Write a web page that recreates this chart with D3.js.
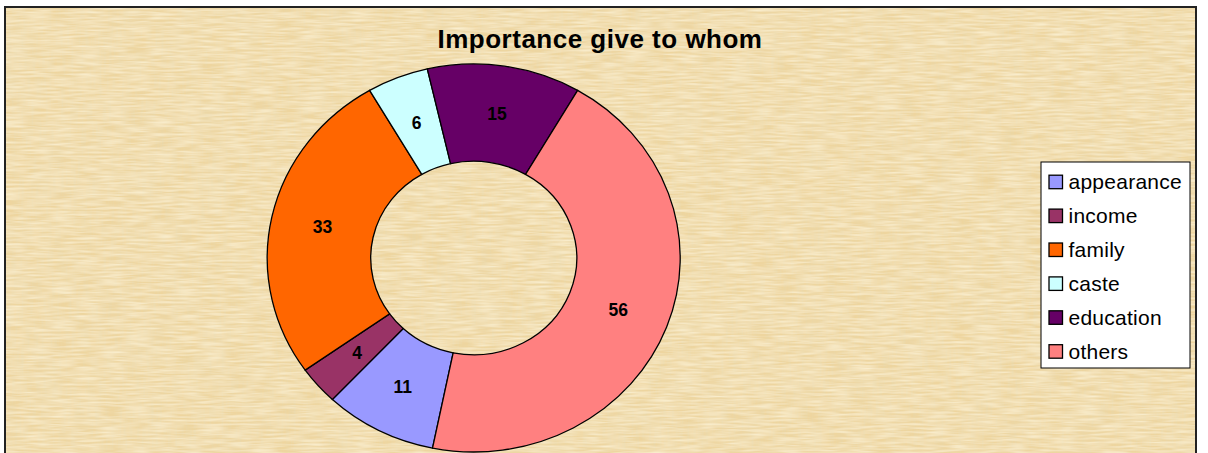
<!DOCTYPE html>
<html>
<head>
<meta charset="utf-8">
<script src="https://cdn.jsdelivr.net/npm/d3@7"></script>
<style>
html,body{margin:0;padding:0;background:#fff;}
svg{display:block;}
</style>
</head>
<body>
<svg id="chart" width="1208" height="453"></svg>
<script>
const categories = ["appearance","income","family","caste","education","others"];
const values = [11, 4, 33, 6, 15, 56];
const colors = ["#9999FF","#993366","#FF6600","#CCFFFF","#660066","#FF8080"];
const title = "Importance give to whom";

const svg = d3.select("#chart");

// background texture (decorative papyrus look)
const defs = svg.append("defs");
const f = defs.append("filter").attr("id","papyrus").attr("x",0).attr("y",0).attr("width","100%").attr("height","100%");
f.append("feTurbulence").attr("type","fractalNoise").attr("baseFrequency","0.5 0.04").attr("numOctaves",2).attr("seed",3).attr("result","n1");
f.append("feColorMatrix").attr("in","n1").attr("type","matrix")
 .attr("values","0 0 0 0 0.80  0 0 0 0 0.68  0 0 0 0 0.40  0 0 0 -1.2 0.75").attr("result","c1");
f.append("feTurbulence").attr("type","fractalNoise").attr("baseFrequency","0.04 0.5").attr("numOctaves",2).attr("seed",7).attr("result","n2");
f.append("feColorMatrix").attr("in","n2").attr("type","matrix")
 .attr("values","0 0 0 0 0.99  0 0 0 0 0.91  0 0 0 0 0.70  0 0 0 1.2 -0.35").attr("result","c2");
f.append("feTurbulence").attr("type","fractalNoise").attr("baseFrequency","0.03 0.03").attr("numOctaves",1).attr("seed",11).attr("result","n3");
f.append("feColorMatrix").attr("in","n3").attr("type","matrix")
 .attr("values","0 0 0 0 0.85  0 0 0 0 0.72  0 0 0 0 0.45  0 0 0 -1.0 0.55").attr("result","c3");
const fm = f.append("feMerge");
fm.append("feMergeNode").attr("in","SourceGraphic");
fm.append("feMergeNode").attr("in","c3");
fm.append("feMergeNode").attr("in","c1");
fm.append("feMergeNode").attr("in","c2");

const frame = {x:5, y:7, w:1191, h:460};
svg.append("rect").attr("x",frame.x).attr("y",frame.y).attr("width",frame.w).attr("height",frame.h)
  .attr("fill","#EED59F").attr("filter","url(#papyrus)");
svg.append("rect").attr("x",frame.x).attr("y",frame.y).attr("width",frame.w).attr("height",frame.h)
  .attr("fill","none").attr("stroke","#222").attr("stroke-width",2);

// title
svg.append("text").attr("x",600).attr("y",48).attr("text-anchor","middle")
  .attr("font-family","Liberation Sans, Arial, sans-serif").attr("font-weight","bold")
  .attr("font-size",26).attr("letter-spacing",0.5).attr("fill","#000").text(title);

// donut
const cx = 473.7, cy = 258, rOuter = 206.5, rInner = 103, ky = 194/206.5;
const start = 191.5 * Math.PI/180;
const pie = d3.pie().sort(null).startAngle(start).endAngle(start + 2*Math.PI);
const arcs = pie(values);
const arc = d3.arc().innerRadius(rInner).outerRadius(rOuter);

const g = svg.append("g").attr("transform",`translate(${cx},${cy}) scale(1,${ky})`);
g.selectAll("path").data(arcs).join("path")
  .attr("d",arc)
  .attr("fill",(d,i)=>colors[i])
  .attr("stroke","#000").attr("stroke-width",1.3)
  .attr("vector-effect","non-scaling-stroke");

const lg = svg.append("g").attr("transform",`translate(${cx},${cy})`);
lg.selectAll("text").data(arcs).join("text")
  .attr("x",d=>arc.centroid(d)[0])
  .attr("y",d=>arc.centroid(d)[1]*ky)
  .attr("text-anchor","middle").attr("dominant-baseline","central")
  .attr("font-family","Liberation Sans, Arial, sans-serif").attr("font-weight","bold")
  .attr("font-size",17.5).attr("fill","#000")
  .text(d=>d.data);

// legend
const leg = svg.append("g");
leg.append("rect").attr("x",1041).attr("y",162).attr("width",149).attr("height",206)
  .attr("fill","#fff").attr("stroke","#000").attr("stroke-width",1);
const step = 33.9;
const items = leg.selectAll("g.item").data(categories).join("g").attr("class","item")
  .attr("transform",(d,i)=>`translate(0,${181.7 + i*step})`);
items.append("rect").attr("x",1049).attr("y",-6.5).attr("width",13.5).attr("height",13.5)
  .attr("fill",(d,i)=>colors[i]).attr("stroke","#000").attr("stroke-width",1.3);
items.append("text").attr("x",1068.5).attr("y",7.3)
  .attr("font-family","Liberation Sans, Arial, sans-serif").attr("font-size",21).attr("letter-spacing",0.25).attr("fill","#000")
  .text(d=>d);
</script>
</body>
</html>
